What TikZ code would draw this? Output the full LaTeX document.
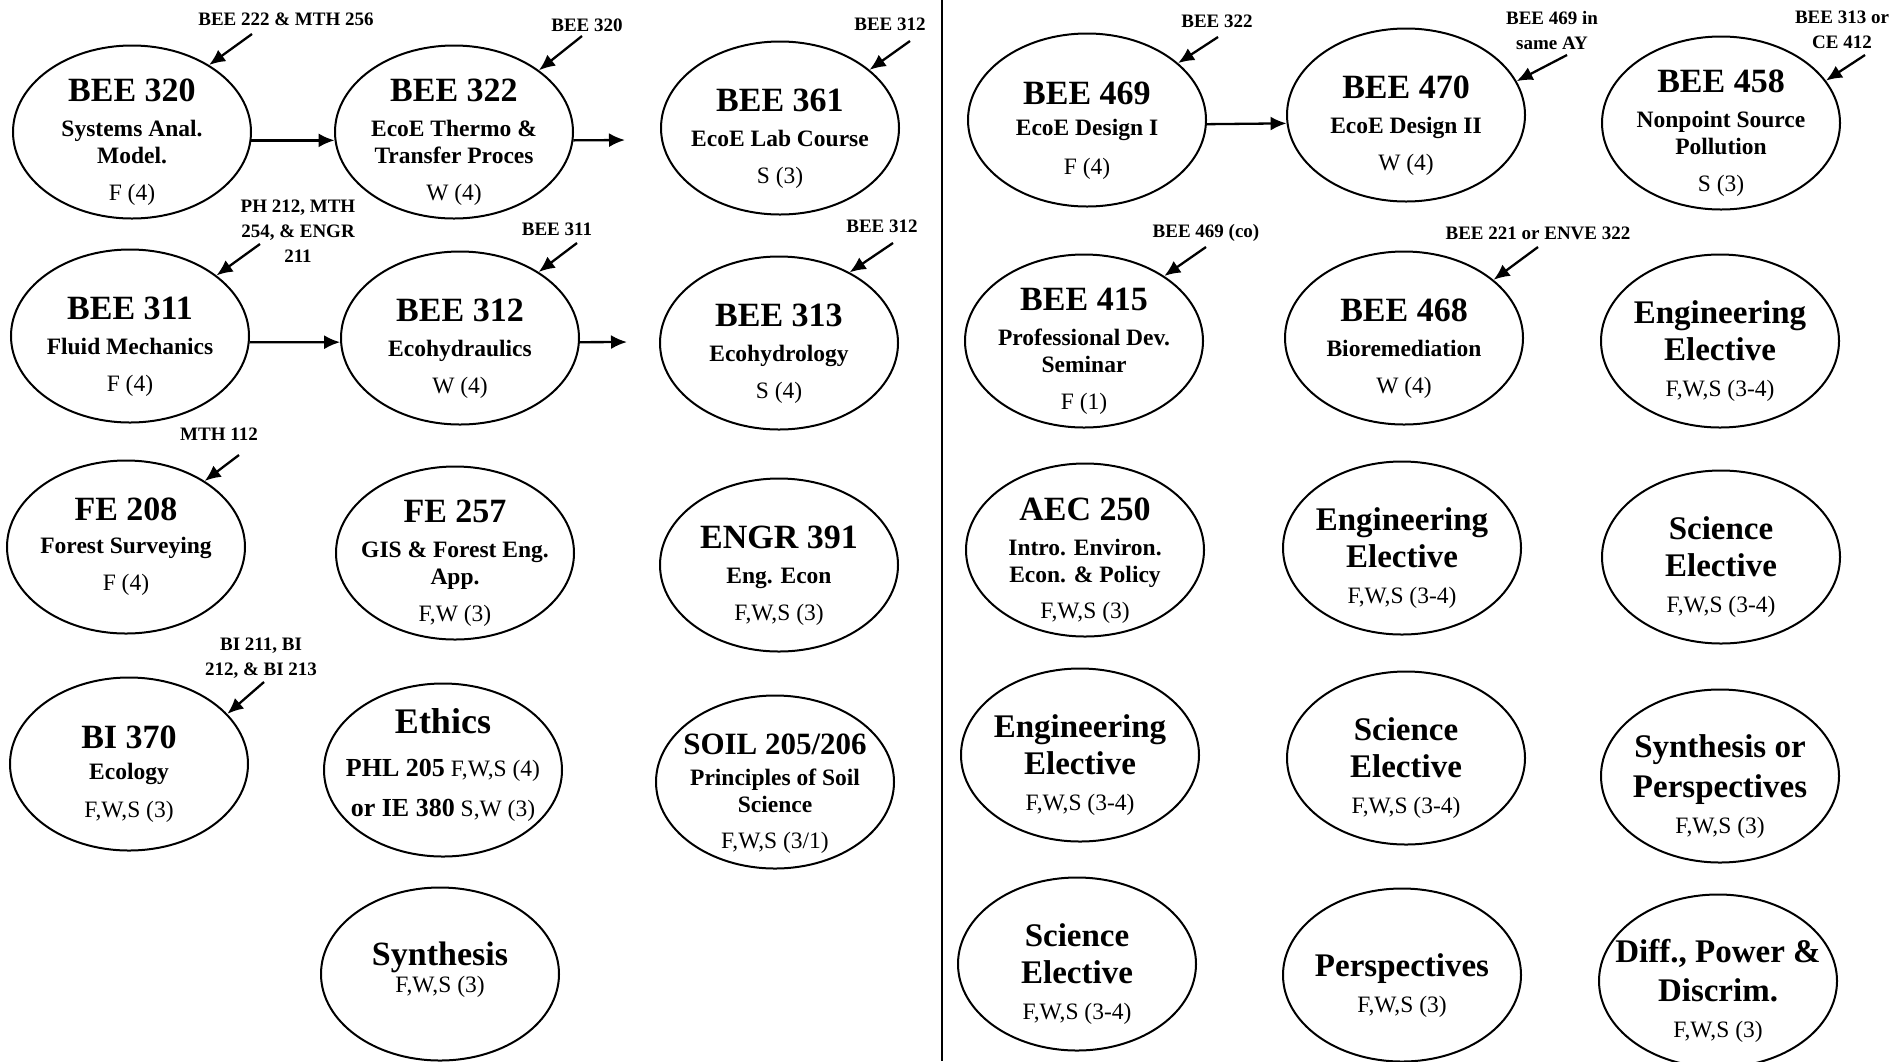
\documentclass[tikz,border=0pt]{standalone}
\usepackage{fontspec}
\setmainfont{Liberation Serif}
\usetikzlibrary{shapes.geometric}
\usetikzlibrary{arrows.meta}

\newcommand{\ctit}[2][34]{{\fontsize{#1}{#1}\selectfont\bfseries\rule{0pt}{43pt}#2}}
\newcommand{\cbig}[2][34]{{\fontsize{#1}{#1}\selectfont\bfseries #2}}
\newcommand{\csub}[1]{{\fontsize{23.5}{27}\selectfont\bfseries #1}}
\newcommand{\cmid}[1]{{\fontsize{26}{27}\selectfont\bfseries #1}}

\begin{document}
\begin{tikzpicture}
    [
    x=1pt, y=-1pt,
    course/.style={ellipse,draw,line width=2pt,minimum width=238pt,minimum height=173pt,
      inner sep=-40pt,align=center,font=\fontsize{23.5}{27}\selectfont},
    prereq/.style={align=center,inner sep=0pt,font=\fontsize{19}{25}\selectfont\bfseries},
    arr/.style={line width=2.3pt,-{Latex[length=16pt,width=14pt]}},
    ]
    \useasboundingbox (0,0) rectangle (1897,1061);

    \node (b320) at (132,132) [course] {\ctit{BEE 320}\\[8pt] \csub{Systems Anal.}\\ \csub{Model.}\\[10pt] F (4)};
    \node (b322) at (454,132) [course] {\ctit{BEE 322}\\[8pt] \csub{EcoE Thermo \&}\\ \csub{Transfer Proces}\\[10pt] W (4)};
    \node (b361) at (780,128) [course] {\ctit{BEE 361}\\[8pt] \csub{EcoE Lab Course}\\[10pt] S (3)};
    \node (b311) at (130,336) [course] {\ctit{BEE 311}\\[8pt] \csub{Fluid Mechanics}\\[10pt] F (4)};
    \node (b312) at (460,338) [course] {\ctit{BEE 312}\\[8pt] \csub{Ecohydraulics}\\[10pt] W (4)};
    \node (b313) at (779,343) [course] {\ctit{BEE 313}\\[8pt] \csub{Ecohydrology}\\[10pt] S (4)};
    \node (fe208) at (126,547) [course] {\cbig{FE 208}\\[6pt] \csub{Forest Surveying}\\[10pt] F (4)};
    \node (fe257) at (455,553) [course] {\ctit{FE 257}\\[8pt] \csub{GIS \& Forest Eng.}\\ \csub{App.}\\[10pt] F,W (3)};
    \node (e391) at (779,565) [course] {\ctit{ENGR 391}\\[8pt] \csub{Eng. Econ}\\[10pt] F,W,S (3)};
    \node (bi370) at (129,764) [course] {\ctit{BI 370}\\[4pt] \csub{Ecology}\\[11pt] F,W,S (3)};
    \node (ethics) at (443,770) [course] {\cbig[36]{Ethics}\\[16pt] \cmid{PHL 205} F,W,S (4)\\[13pt] \cmid{or IE 380} S,W (3)\rule[-15pt]{0pt}{1pt}};
    \node (soil) at (775,782) [course] {\ctit[31]{SOIL 205/206}\\[4pt] \csub{Principles of Soil}\\ \csub{Science}\\[9pt] F,W,S (3/1)};
    \node (synth) at (440,974) [course] {\cbig{Synthesis}\\ F,W,S (3)\rule[-14pt]{0pt}{1pt}};

    \node (b469) at (1087,120) [course] {\ctit{BEE 469}\\[4pt] \csub{EcoE Design I}\\[12pt] F (4)};
    \node (b470) at (1406,115) [course] {\ctit{BEE 470}\\[8pt] \csub{EcoE Design II}\\[10pt] W (4)};
    \node (b458) at (1721,123) [course] {\ctit{BEE 458}\\[8pt] \csub{Nonpoint Source}\\ \csub{Pollution}\\[10pt] S (3)};
    \node (b415) at (1084,341) [course] {\ctit{BEE 415}\\[8pt] \csub{Professional Dev.}\\ \csub{Seminar}\\[10pt] F (1)};
    \node (b468) at (1404,338) [course] {\ctit{BEE 468}\\[8pt] \csub{Bioremediation}\\[10pt] W (4)};
    \node (engA) at (1720,341) [course] {\ctit[33]{Engineering}\\[6.5pt] \cbig[33]{Elective}\\[9pt] F,W,S (3-4)};
    \node (aec250) at (1085,550) [course] {\ctit{AEC 250}\\[8pt] \csub{Intro. Environ.}\\ \csub{Econ. \& Policy}\\[9pt] F,W,S (3)};
    \node (engB) at (1402,548) [course] {\ctit[33]{Engineering}\\[6.5pt] \cbig[33]{Elective}\\[9pt] F,W,S (3-4)};
    \node (sciA) at (1721,557) [course] {\ctit[33]{Science}\\[10pt] \cbig[33]{Elective}\\[9pt] F,W,S (3-4)};
    \node (engC) at (1080,755) [course] {\ctit[33]{Engineering}\\[6.5pt] \cbig[33]{Elective}\\[9pt] F,W,S (3-4)};
    \node (sciB) at (1406,758) [course] {\ctit[33]{Science}\\[10pt] \cbig[33]{Elective}\\[9pt] F,W,S (3-4)};
    \node (synp) at (1720,776) [course] {\ctit[33]{Synthesis or}\\[9pt] \cbig[33]{Perspectives}\\[9pt] F,W,S (3)};
    \node (sciC) at (1077,964) [course] {\ctit[33]{Science}\\[10pt] \cbig[33]{Elective}\\[9pt] F,W,S (3-4)};
    \node (persp) at (1402,975) [course] {\ctit[33]{Perspectives}\\[9pt] F,W,S (3)};
    \node (diff) at (1718,981) [course] {\ctit[33]{Diff., Power \&}\\[10pt] \cbig[33]{Discrim.}\\[9pt] F,W,S (3)};

    \node (l320) at (286,19) [prereq] {BEE 222 \& MTH 256};
    \node (l322) at (587,25) [prereq] {BEE 320};
    \node (l361) at (890,24) [prereq] {BEE 312};
    \node (l311) at (298,231) [prereq] {PH 212, MTH\\254, \& ENGR\\211};
    \node (l312) at (557,229) [prereq] {BEE 311};
    \node (l313) at (882,226) [prereq] {BEE 312};
    \node (l208) at (219,434) [prereq] {MTH 112};
    \node (l370) at (261,658) [prereq] {BI 211, BI\\212, \& BI 213};
    \node (l469) at (1217,21) [prereq] {BEE 322};
    \node (l470) at (1552,30) [prereq] {BEE 469 in\\same AY};
    \node (l458) at (1842,30) [prereq] {BEE 313 or\\CE 412};
    \node (l415) at (1206,233) [prereq] {BEE 469 (co)};
    \node (l468) at (1538,233) [prereq] {BEE 221 or ENVE 322};

    \coordinate (s320) at (252,34);
    \coordinate (s322) at (582,36);
    \coordinate (s361) at (910,41);
    \coordinate (s311) at (260,244);
    \coordinate (s312) at (577,243);
    \coordinate (s313) at (893,243);
    \coordinate (s208) at (239,455);
    \coordinate (s370) at (264,682);
    \coordinate (s469) at (1218,37);
    \coordinate (s470) at (1567,55);
    \coordinate (s458) at (1865,55);
    \coordinate (s415) at (1206,247);
    \coordinate (s468) at (1538,247);

    \draw [arr] (s320) to (b320.41);
    \draw [arr] (s322) to (b322.36);
    \draw [arr] (s361) to (b361.33);
    \draw [arr] (s311) to (b311.35);
    \draw [arr] (s312) to (b312.40);
    \draw [arr] (s313) to (b313.45);
    \draw [arr] (s208) to (fe208.40);
    \draw [arr] (s370) to (bi370.27);
    \draw [arr] (s469) to (b469.32);
    \draw [arr] (s470) to (b470.17);
    \draw [arr] (s458) to (b458.22);
    \draw [arr] (s415) to (b415.39);
    \draw [arr] (s468) to (b468.33);

    \coordinate (t322) at (625,140);
    \coordinate (t312) at (627,342);
    \draw [arr] (b320.-4) to (b322.184);
    \draw [arr] (b322.-4) to (t322);
    \draw [arr] (b311.-3) to (b312.182);
    \draw [arr] (b312.-2) to (t312);
    \draw [arr] (b469.-2) to (b470.184);

    \coordinate (dtop) at (942,0);
    \coordinate (dbot) at (942,1061);
    \draw [line width=2.3pt] (dtop) to (dbot);
  \end{tikzpicture}
\end{document}
